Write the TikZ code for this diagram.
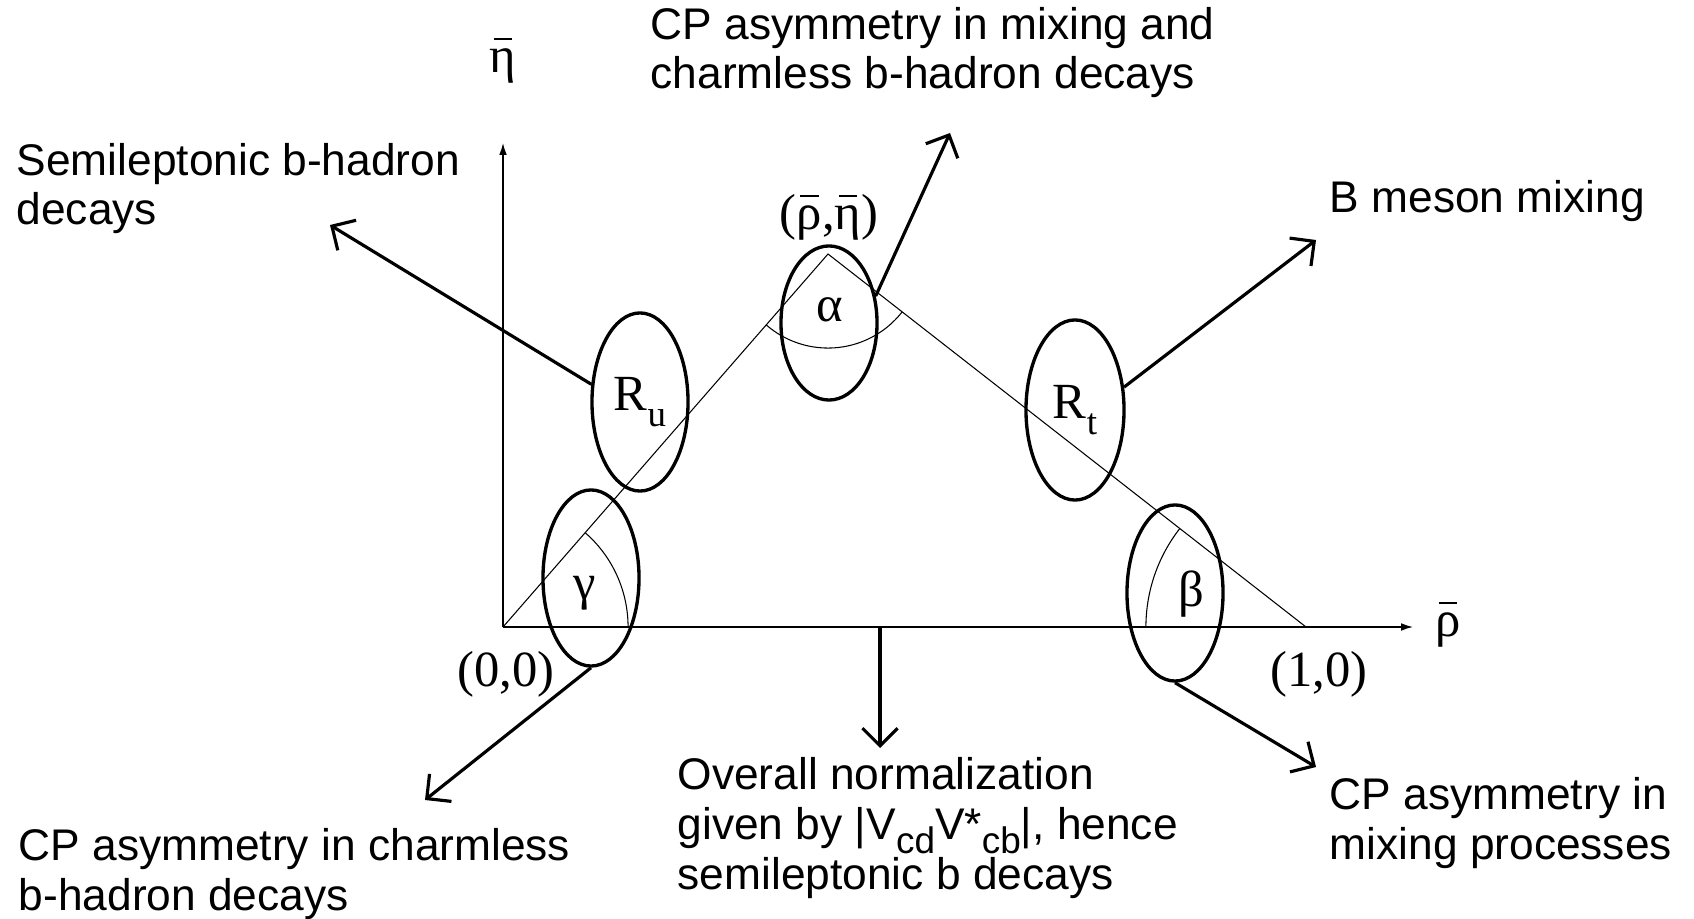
\documentclass[tikz,border=0pt]{standalone}
\usepackage{fontspec}
\setmainfont{Liberation Sans}
\newfontfamily\timesfont{Liberation Serif}
\usetikzlibrary{arrows.meta,shapes.geometric,angles}
\newcommand{\barred}[1]{\ooalign{#1\cr\hidewidth\raisebox{0.66em}{\rule{0.36em}{0.4pt}}\hidewidth\cr}}
\newcommand{\lowsub}[1]{\raisebox{-0.32em}{\fontsize{10.5}{10.5}\selectfont #1}}

\begin{document}
\begin{tikzpicture}[
  x=0.01cm, y=-0.01cm,
  axis/.style={line width=0.4pt, -{Latex[length=3.4pt,width=2.2pt]}},
  side/.style={line width=0.3pt},
  region/.style={draw, ellipse, line width=0.95pt, inner sep=0pt},
  pointer/.style={line width=0.9pt, -{Straight Barb[length=5pt,width=10pt]}},
  anglearc/.style={draw, line width=0.3pt},
  note/.style={font=\fontsize{12.6}{14.2}\selectfont, align=left, anchor=base west, inner sep=0pt},
  sym/.style={font=\timesfont\fontsize{14.4}{16}\selectfont, inner sep=0pt}
]

\useasboundingbox (0,0) rectangle (1694,919);

% ------------------------------------------------------------
% Triangle and axes
% ------------------------------------------------------------
\coordinate (O) at (503,627);
\coordinate (A) at (828,254);
\coordinate (B) at (1306,627);
\coordinate (etatip) at (503,143);
\coordinate (rhotip) at (1413,627);

\draw[axis] (O) -- (etatip);
\draw[axis] (O) -- (rhotip);
\draw[side] (O) -- (A) -- (B);

\pic[anglearc, angle radius=0.94cm] {angle = O--A--B};
\pic[anglearc, angle radius=1.25cm] {angle = B--O--A};
\pic[anglearc, angle radius=1.6cm] {angle = A--B--O};

\node[sym, anchor=base] (etalbl) at (503,73) {\barred{η}};
\node[sym, anchor=base] (rholbl) at (1448,637) {\barred{ρ}};
\node[sym, anchor=base east] (orig) at (555,686) {(0,0)};
\node[sym, anchor=base] (unit) at (1319,686) {(1,0)};
\node[sym, anchor=base] (apex) at (829,230) {(\barred{ρ},\barred{η})};

% ------------------------------------------------------------
% Ellipses around sides and angles
% ------------------------------------------------------------
\node[region, minimum width=0.96cm, minimum height=1.54cm] (al) at (829,323) {};
\node[region, minimum width=0.96cm, minimum height=1.78cm, sym] (Ru) at (640,402) {R\lowsub{u}};
\node[region, minimum width=0.98cm, minimum height=1.80cm, sym] (Rt) at (1075,410) {R\lowsub{t}};
\node[region, minimum width=0.96cm, minimum height=1.76cm] (ga) at (591,578) {};
\node[region, minimum width=0.96cm, minimum height=1.76cm] (be) at (1175,593) {};

\node[sym, anchor=base] (allbl) at (830,322) {α};
\node[sym, anchor=base] (galbl) at (585,600) {γ};
\node[sym, anchor=base] (belbl) at (1191,607) {β};

% ------------------------------------------------------------
% What measures what (anchored at the last baseline)
% ------------------------------------------------------------
\node[note] (slb) at (16,225) {Semileptonic b-hadron\\decays};
\node[note] (cpmc) at (650,89) {CP asymmetry in mixing and\\charmless b-hadron decays};
\node[note] (bmix) at (1329,213) {B meson mixing};
\node[note] (cpcl) at (18,910) {CP asymmetry in charmless\\b-hadron decays};
\node[note] (norm) at (677,889)
  {Overall normalization\\given by |V\lowsub{cd}V*\lowsub{cb}|, hence\\semileptonic b decays};
\node[note] (cpmp) at (1329,859) {CP asymmetry in\\mixing processes};

\coordinate (slbtip) at (330,225);
\coordinate (cpmctip) at (950,133);
\coordinate (bmixtip) at (1316,240);
\coordinate (cpcltip) at (425,800);
\coordinate (normfoot) at (880,627);
\coordinate (normtip) at (880,748);
\coordinate (cpmptip) at (1316,767);

\draw[pointer] (Ru.160) -- (slbtip);
\draw[pointer] (al.30) -- (cpmctip);
\draw[pointer] (Rt.25) -- (bmixtip);
\draw[pointer] (ga.south) -- (cpcltip);
\draw[pointer] (normfoot) -- (normtip);
\draw[pointer] (be.south) -- (cpmptip);

\end{tikzpicture}
\end{document}
